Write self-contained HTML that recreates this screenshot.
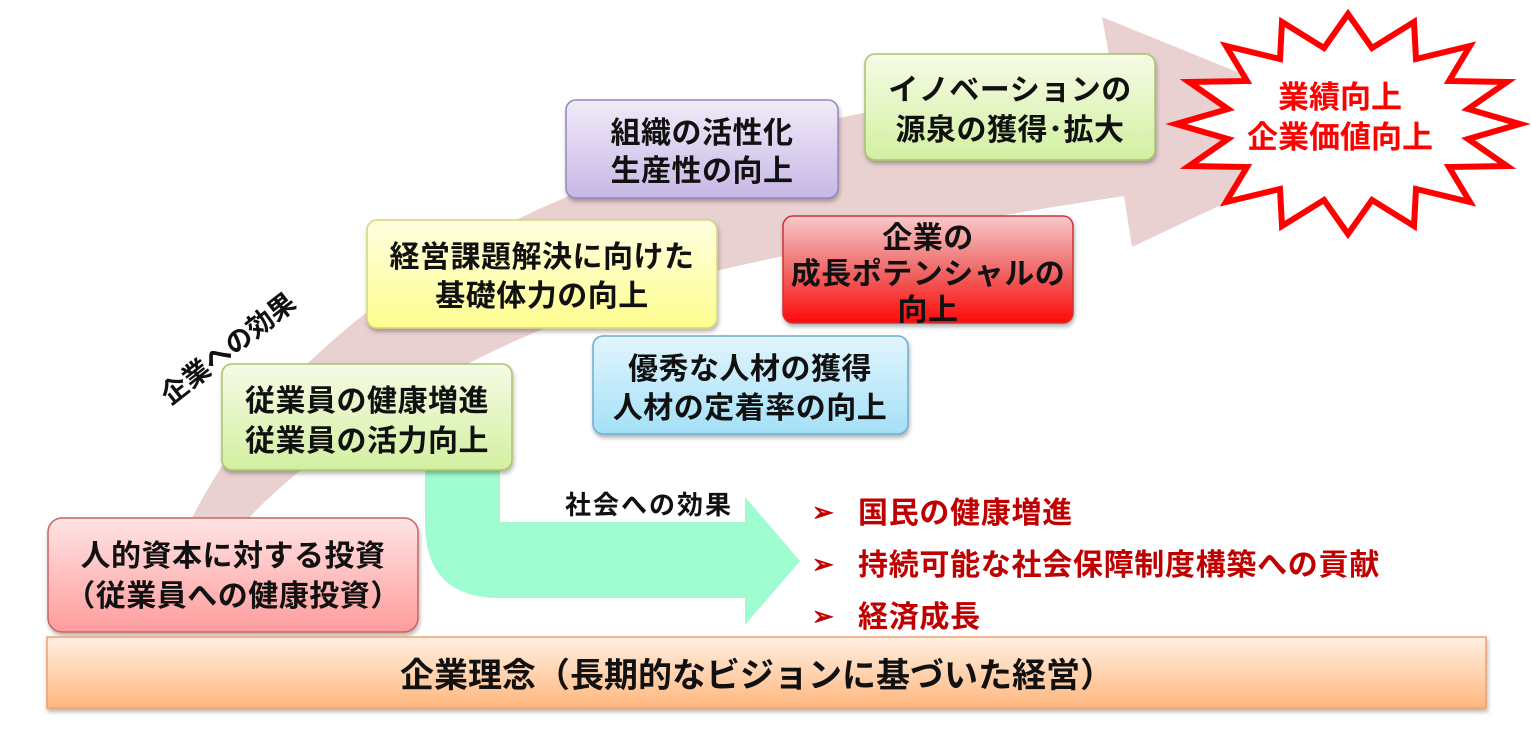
<!DOCTYPE html>
<html><head><meta charset="utf-8"><style>
html,body{margin:0;padding:0;background:#fff;width:1531px;height:731px;overflow:hidden}
svg text{font-family:"Liberation Sans","Noto Sans CJK JP",sans-serif;font-weight:bold}
</style></head><body>
<svg width="1531" height="731" viewBox="0 0 1531 731" xmlns="http://www.w3.org/2000/svg">
<defs>
<linearGradient id="gPink" x1="0" y1="0" x2="0" y2="1"><stop offset="0" stop-color="#ffe4e4"/><stop offset="1" stop-color="#ff9c9c"/></linearGradient>
<linearGradient id="gGreen" x1="0" y1="0" x2="0" y2="1"><stop offset="0" stop-color="#f6fbe6"/><stop offset="1" stop-color="#d2f0a0"/></linearGradient>
<linearGradient id="gYellow" x1="0" y1="0" x2="0" y2="1"><stop offset="0" stop-color="#fefee0"/><stop offset="1" stop-color="#fefe90"/></linearGradient>
<linearGradient id="gPurple" x1="0" y1="0" x2="0" y2="1"><stop offset="0" stop-color="#f0eaf8"/><stop offset="1" stop-color="#c8b8e6"/></linearGradient>
<linearGradient id="gRed" x1="0" y1="0" x2="0" y2="1"><stop offset="0" stop-color="#f8caca"/><stop offset="0.5" stop-color="#ef6a6a"/><stop offset="1" stop-color="#ff0a0a"/></linearGradient>
<linearGradient id="gBlue" x1="0" y1="0" x2="0" y2="1"><stop offset="0" stop-color="#e2f5fd"/><stop offset="1" stop-color="#a4e0f8"/></linearGradient>
<linearGradient id="gOrange" x1="0" y1="0" x2="0" y2="1"><stop offset="0" stop-color="#fff0e2"/><stop offset="1" stop-color="#ffb77e"/></linearGradient>
<filter id="sh" x="-5%" y="-5%" width="110%" height="120%"><feDropShadow dx="1" dy="3" stdDeviation="2" flood-color="#000" flood-opacity="0.3"/></filter>
</defs>

<path d="M190,522 C260,380 420,230 700,150 C850,110 1000,90 1112,72 L1102,17 L1380,130 L1132,247 L1124,196 C1000,215 850,240 720,270 C520,320 340,420 245,522 Z" fill="#e8cccc" opacity="0.9"/>

<path d="M425,470 L500,470 L500,522 L745,522 L745,497 L800,561 L745,625 L745,598 L500,598 Q425,598 425,523 Z" fill="#9ffcd0"/>

<polygon fill="#fff" stroke="#ff0000" stroke-width="6" stroke-linejoin="miter" points="1348,14 1372,48 1414,22 1416,59 1470,46 1449,81 1507,82 1468,109 1520,124 1468,139 1507,166 1449,167 1470,202 1416,189 1414,226 1372,200 1348,234 1324,200 1282,226 1280,189 1226,202 1247,167 1189,166 1228,139 1176,124 1228,109 1189,82 1247,81 1226,46 1280,59 1282,22 1324,48"/>
<text x="1340" y="108" font-size="31" fill="#ff0000" text-anchor="middle">業績向上</text>
<text x="1340" y="148" font-size="31" fill="#ff0000" text-anchor="middle">企業価値向上</text>

<g filter="url(#sh)">
<rect x="48" y="518" width="370" height="114" rx="14" fill="url(#gPink)" stroke="#c86464" stroke-width="1.5"/>
<rect x="222" y="364" width="290" height="106" rx="10" fill="url(#gGreen)" stroke="#a6c46a" stroke-width="1.5"/>
<rect x="367" y="220" width="350" height="108" rx="10" fill="url(#gYellow)" stroke="#d6d67a" stroke-width="1.5"/>
<rect x="566" y="100" width="272" height="98" rx="10" fill="url(#gPurple)" stroke="#9686bd" stroke-width="1.5"/>
<rect x="865" y="54" width="290" height="106" rx="10" fill="url(#gGreen)" stroke="#a6c46a" stroke-width="1.5"/>
<rect x="783" y="216" width="290" height="107" rx="10" fill="url(#gRed)" stroke="#d03030" stroke-width="1.5"/>
<rect x="593" y="336" width="315" height="98" rx="10" fill="url(#gBlue)" stroke="#6aaed0" stroke-width="1.5"/>
<rect x="47" y="637" width="1439" height="71" fill="url(#gOrange)" stroke="#eea070" stroke-width="1.5"/>
</g>

<g font-size="30" fill="#111" text-anchor="middle" letter-spacing="0.5">
<text x="233" y="566">人的資本に対する投資</text>
<text x="233" y="606">（従業員への健康投資）</text>
<text x="367" y="411">従業員の健康増進</text>
<text x="367" y="451">従業員の活力向上</text>
<text x="542" y="267">経営課題解決に向けた</text>
<text x="542" y="306">基礎体力の向上</text>
<text x="702" y="143">組織の活性化</text>
<text x="702" y="181">生産性の向上</text>
<text x="1010" y="100">イノベーションの</text>
<text x="1010" y="140">源泉の獲得･拡大</text>
<text x="928" y="248">企業の</text>
<text x="928" y="284">成長ポテンシャルの</text>
<text x="928" y="320">向上</text>
<text x="750" y="379">優秀な人材の獲得</text>
<text x="750" y="418">人材の定着率の向上</text>
<text x="757" y="687" font-size="34" letter-spacing="0">企業理念（長期的なビジョンに基づいた経営）</text>
</g>

<text x="649" y="514" font-size="26" fill="#111" text-anchor="middle" letter-spacing="2">社会への効果</text>
<text x="0" y="0" font-size="27" fill="#111" text-anchor="middle" transform="translate(234,356) rotate(-38)">企業への効果</text>

<g font-size="30" fill="#c00000" letter-spacing="0.7">
<text x="812" y="521" font-size="26">➢</text>
<text x="858" y="523">国民の健康増進</text>
<text x="812" y="573" font-size="26">➢</text>
<text x="858" y="575">持続可能な社会保障制度構築への貢献</text>
<text x="812" y="625" font-size="26">➢</text>
<text x="858" y="627">経済成長</text>
</g>
</svg>
</body></html>
